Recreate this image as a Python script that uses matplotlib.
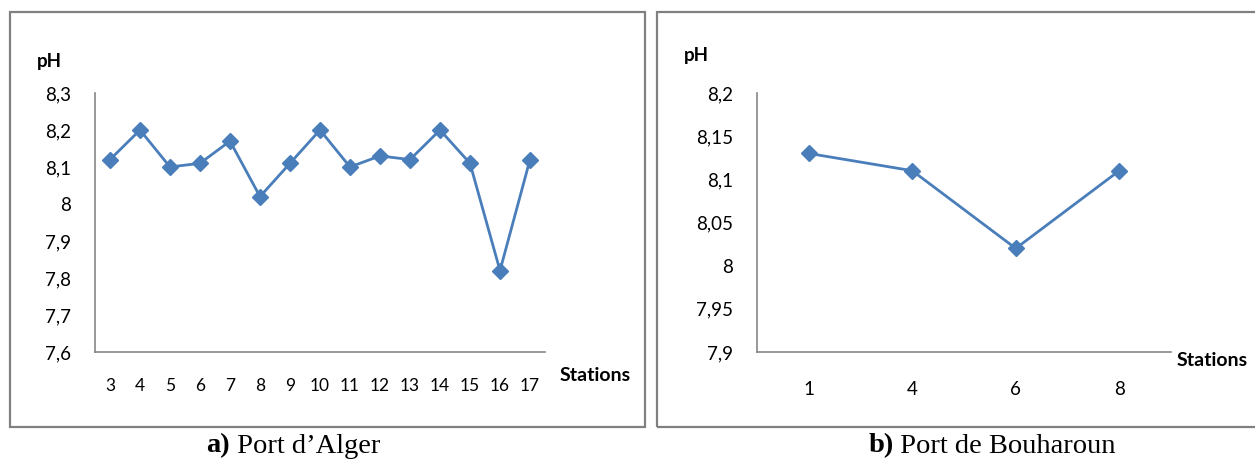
import matplotlib
matplotlib.use("Agg")
import matplotlib.pyplot as plt
from matplotlib.patches import Rectangle

# pH measured at each station
alger_stations = ["3", "4", "5", "6", "7", "8", "9", "10", "11", "12", "13", "14", "15", "16", "17"]
alger_ph = [8.12, 8.20, 8.10, 8.11, 8.17, 8.02, 8.11, 8.20, 8.10, 8.13, 8.12, 8.20, 8.11, 7.82, 8.12]
alger_yticks = [7.6, 7.7, 7.8, 7.9, 8.0, 8.1, 8.2, 8.3]

bouharoun_stations = ["1", "4", "6", "8"]
bouharoun_ph = [8.13, 8.11, 8.02, 8.11]
bouharoun_yticks = [7.90, 7.95, 8.00, 8.05, 8.10, 8.15, 8.20]

W, H = 1255, 461
LINE = "#4A7EBB"
AXIS_GREY = "#868686"
BOX_GREY = "#808080"
SANS = "Lato"
SERIF = "Liberation Serif"

fig = plt.figure(figsize=(W / 100, H / 100), dpi=100)


def px_rect(x0, y0, x1, y1):
    """Pixel box (top-left origin) -> figure fraction rect."""
    return [x0 / W, (H - y1) / H, (x1 - x0) / W, (y1 - y0) / H]


def fmt(v, nd):
    s = f"{v:.{nd}f}".rstrip("0").rstrip(".")
    return s.replace(".", ",")


def panel(rect, cats, vals, yticks, nd, xfs, xpad):
    ax = fig.add_axes(rect)
    x = list(range(len(cats)))
    ax.plot(x, vals, color=LINE, lw=2.0, marker="D", ms=7.8,
            markerfacecolor=LINE, markeredgecolor=LINE, zorder=3)
    ax.set_xlim(-0.5, len(cats) - 0.5)
    ax.set_ylim(yticks[0], yticks[-1])
    ax.set_xticks(x)
    ax.set_xticklabels(cats, fontsize=xfs, family=SANS)
    ax.set_yticks(yticks)
    ax.set_yticklabels([fmt(v, nd) for v in yticks], fontsize=13.5, family=SANS)
    ax.tick_params(axis="y", length=0, pad=17)
    ax.tick_params(axis="x", length=0, pad=xpad)
    for s in ("top", "right"):
        ax.spines[s].set_visible(False)
    for s in ("left", "bottom"):
        ax.spines[s].set_color(AXIS_GREY)
        ax.spines[s].set_linewidth(1.2)
    ax.set_facecolor("none")
    return ax


panel(px_rect(95, 93, 545, 352), alger_stations, alger_ph, alger_yticks, 1, 12.5, 19)
panel(px_rect(757, 93, 1171, 352), bouharoun_stations, bouharoun_ph, bouharoun_yticks, 2, 13.5, 21)

# frames around each chart
for x0, x1 in ((10, 645), (657, 1262)):
    fig.add_artist(Rectangle((x0 / W, (H - 427) / H), (x1 - x0) / W, (427 - 12) / H,
                             transform=fig.transFigure, fill=False,
                             edgecolor=BOX_GREY, lw=1.6))

# axis titles
def ftext(px, py, s, **kw):
    fig.text(px / W, 1 - py / H, s, **kw)

ftext(49, 61, "pH", ha="center", va="center", fontsize=13.5, fontweight="bold", family=SANS)
ftext(696, 56, "pH", ha="center", va="center", fontsize=13.5, fontweight="bold", family=SANS)
ftext(595, 375, "Stations", ha="center", va="center", fontsize=14, fontweight="bold", family=SANS)
ftext(1212, 361, "Stations", ha="center", va="center", fontsize=14, fontweight="bold", family=SANS)

# panel captions
def caption(cx, cy, tag, rest):
    t1 = fig.text(0, 0, tag, fontsize=20.5, fontweight="bold", family=SERIF)
    t2 = fig.text(0, 0, rest, fontsize=20.5, family=SERIF)
    r = fig.canvas.get_renderer()
    w1 = t1.get_window_extent(r).width
    w2 = t2.get_window_extent(r).width
    x0 = cx - (w1 + w2) / 2
    t1.set_position((x0 / W, 1 - cy / H))
    t2.set_position(((x0 + w1) / W, 1 - cy / H))
    t1.set_va("center")
    t2.set_va("center")

caption(293, 446, "a)", " Port d\u2019Alger")
caption(992, 446, "b)", " Port de Bouharoun")

fig.savefig("out.png", dpi=100, facecolor="white")
